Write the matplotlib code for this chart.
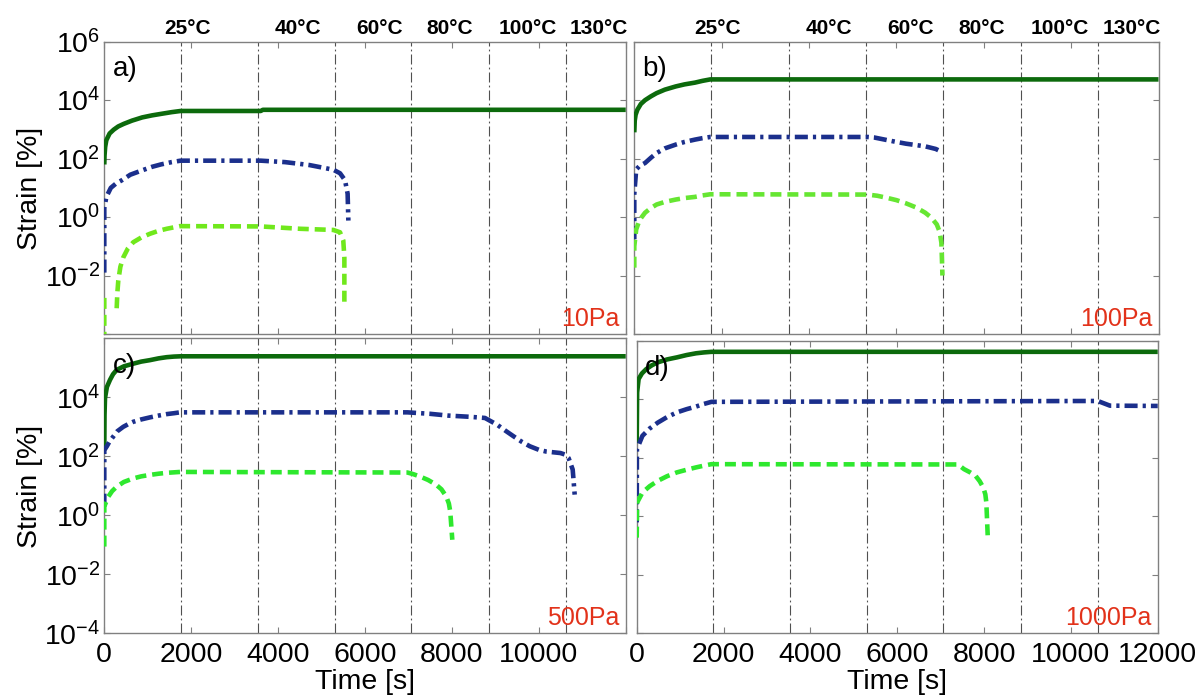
import numpy as np
import matplotlib
matplotlib.use("Agg")
import matplotlib.pyplot as plt
from matplotlib.ticker import FixedLocator, FuncFormatter, NullLocator
import matplotlib.transforms as mtransforms

plt.rcParams['font.family'] = ['Liberation Sans', 'DejaVu Sans']
plt.rcParams['mathtext.fontset'] = 'custom'
plt.rcParams['mathtext.rm'] = 'Liberation Sans'
plt.rcParams['mathtext.it'] = 'Liberation Sans:italic'
plt.rcParams['mathtext.bf'] = 'Liberation Sans:bold'

# Temperature steps of the creep programme
step_times = [1767, 3530, 5310, 7060, 8850, 10617]
temp_labels = ['25°C', '40°C', '60°C', '80°C', '100°C', '130°C']
temp_label_times = [1910, 4460, 6330, 7960, 9750, 11380]

stress_labels = ['10Pa', '100Pa', '500Pa', '1000Pa']
panel_letters = ['a)', 'b)', 'c)', 'd)']

x_ticks = [0, 2000, 4000, 6000, 8000, 10000, 12000]
y_ticks = [1e-4, 1e-2, 1e0, 1e2, 1e4, 1e6]

# ---- 10 Pa ----
t_a_dark = [0, 5, 20, 47, 122, 216, 320, 450, 638, 873, 1100, 1343, 1550, 1756, 3600, 3650, 12000]
s_a_dark = [63, 126, 251, 427, 724, 977, 1260, 1550, 1995, 2570, 3020, 3467, 3890, 4266, 4266,
            4677, 4677]
t_a_blue = [0, 0, 47, 150, 270, 404, 600, 873, 1100, 1300, 1550, 1756, 3600, 4160, 4720, 5270,
            5425, 5540, 5600, 5617]
s_a_blue = [0.0126, 2.0, 4.9, 10.0, 14.1, 18.2, 28.2, 39.8, 52.5, 63.1, 75.9, 85.1, 85.1, 75.9,
            60.3, 41.7, 31.6, 18.2, 6.31, 0.759]
t_a_light = [0, 0, np.nan, 285, 300, 322, 370, 437, 540, 667, 850, 1052, 1250, 1436, 1742, 3600,
             4500, 5270, 5425, 5500, 5525, 5525]
s_a_light = [5e-5, 2.34e-3, np.nan, 7.6e-4, 2.51e-3, 6.76e-3, 0.02, 0.0417, 0.0832, 0.138, 0.2,
             0.269, 0.339, 0.398, 0.49, 0.479, 0.398, 0.363, 0.302, 0.158, 0.0417, 1.07e-3]

# ---- 100 Pa ----
t_b_dark = [0, 10, 30, 70, 150, 246, 380, 510, 700, 949, 1150, 1388, 1560, 1739, 12000]
s_b_dark = [794, 1995, 3162, 4677, 7413, 10000, 13490, 17380, 22910, 29510, 34670, 39810, 45710,
            51290, 51290]
t_b_blue = [0, 0, 44, 120, 246, 380, 510, 700, 949, 1150, 1388, 1560, 1739, 5341, 5500, 5900,
            6220, 6659, 6900, 7054]
s_b_blue = [0.174, 6.31, 42.7, 56.2, 70.8, 107, 155, 224, 302, 372, 447, 501, 550, 550, 525, 398,
            324, 263, 214, 166]
t_b_light = [0, 0, 44, 120, 246, 380, 510, 700, 949, 1150, 1388, 1560, 1739, 5341, 5560, 5780,
             6000, 6220, 6450, 6660, 6800, 6924, 6990, 7030, 7054]
s_b_light = [0.0186, 0.1, 0.38, 0.794, 1.41, 2.04, 2.69, 3.31, 3.98, 4.47, 4.9, 5.5, 6.03, 5.89,
             5.37, 4.57, 3.8, 2.95, 2.14, 1.41, 0.955, 0.562, 0.316, 0.132, 0.01]

# ---- 500 Pa ----
t_c_dark = [0, 5, 16, 60, 131, 200, 285, 450, 668, 850, 1052, 1250, 1436, 1600, 1760, 12000]
s_c_dark = [158, 2512, 9333, 22390, 38900, 60260, 85110, 112200, 138000, 162200, 182000, 208900,
            229100, 239900, 245500, 245500]
t_c_blue = [0, 0, 55, 120, 207, 300, 437, 550, 667, 850, 1052, 1250, 1436, 1600, 1742, 6976,
            7500, 7915, 8400, 8760, 9042, 9230, 9417, 9600, 9793, 10000, 10169, 10498, 10600,
            10686, 10780, 10826]
s_c_blue = [1.95, 162, 214, 316, 468, 708, 1000, 1230, 1479, 1778, 2089, 2399, 2692, 2884, 3090,
            3090, 2754, 2399, 2188, 1995, 1175, 741, 479, 316, 219, 166, 145, 129, 115, 87.1,
            35.5, 5.01]
t_c_light = [0, 0, 92, 180, 285, 450, 668, 850, 1052, 1250, 1436, 1742, 6976, 7100, 7258, 7450,
             7634, 7760, 7869, 7930, 7962, 8009]
s_c_light = [0.087, 2.0, 4.27, 6.61, 9.33, 13.5, 17.8, 20.9, 23.4, 25.7, 27.5, 29.5, 28.2, 25.1,
             20.9, 15.8, 11.0, 7.59, 4.37, 2.51, 1.35, 0.148]

# ---- 1000 Pa ----
t_d_dark = [0, 10, 44, 120, 221, 350, 485, 700, 926, 1150, 1368, 1550, 1721, 12000]
s_d_dark = [316, 16980, 48980, 75860, 107200, 144500, 182000, 229100, 269200, 323600, 371500,
            398100, 416900, 416900]
t_d_blue = [0, 5, 132, 300, 485, 700, 926, 1150, 1368, 1550, 1721, 10620, 10760, 10900, 12000]
s_d_blue = [0.617, 195, 562, 1000, 1585, 2455, 3548, 4571, 5623, 6918, 8128, 8710, 7244, 6026,
            5888]
t_d_light = [0, 10, 132, 300, 485, 700, 926, 1150, 1368, 1550, 1721, 7400, 7540, 7680, 7806,
             7900, 7982, 8030, 8053, 8088]
s_d_light = [0.186, 2.95, 6.46, 10.7, 16.2, 23.4, 31.6, 38.9, 46.8, 53.7, 60.3, 58.9, 40.7, 31.6,
             24.0, 15.8, 9.55, 5.62, 2.95, 0.166]

panels = [
    (t_a_dark, s_a_dark, t_a_blue, s_a_blue, t_a_light, s_a_light),
    (t_b_dark, s_b_dark, t_b_blue, s_b_blue, t_b_light, s_b_light),
    (t_c_dark, s_c_dark, t_c_blue, s_c_blue, t_c_light, s_c_light),
    (t_d_dark, s_d_dark, t_d_blue, s_d_blue, t_d_light, s_d_light),
]

dark_green = '#0c6a0c'
navy = '#1b2f8c'
light_greens = ['#70e81c', '#66e632', '#2ee82e', '#2ee82e']
frame_gray = '#808080'
label_red = '#e2321a'

W, H = 1201, 695
fig = plt.figure(figsize=(W / 100, H / 100), dpi=100)

# axes boxes in pixels: left, top, right, bottom
boxes = [
    (104.3, 41.7, 625.7, 334.0),
    (634.3, 41.7, 1158.5, 334.0),
    (104.3, 338.3, 625.7, 633.3),
    (636.7, 340.7, 1157.7, 633.3),
]

LW = 3.3
for i, (l, t, r, b) in enumerate(boxes):
    ax = fig.add_axes([l / W, (H - b) / H, (r - l) / W, (b - t) / H])
    row, col = divmod(i, 2)
    td, sd, tb, sb, tl, sl = panels[i]

    for xs in step_times:
        ax.axvline(xs, color='#505050', lw=0.8, linestyle=(0, (9, 2.8, 1.6, 2.8)), zorder=1)

    ax.plot(td, sd, color=dark_green, lw=LW, solid_capstyle='butt', solid_joinstyle='round',
            zorder=3)
    ax.plot(tb, sb, color=navy, lw=LW, linestyle=(0, (2.85, 1.1, 0.7, 1.1)), zorder=4)
    ax.plot(tl, sl, color=light_greens[i], lw=LW, linestyle=(0, (2.4, 1.3)), zorder=5)

    ax.set_yscale('log')
    ax.set_xlim(0, 12000)
    ax.set_ylim(1e-4, 1e6)
    ax.xaxis.set_major_locator(FixedLocator(x_ticks))
    ax.yaxis.set_major_locator(FixedLocator(y_ticks))
    ax.yaxis.set_minor_locator(NullLocator())
    ax.xaxis.set_minor_locator(NullLocator())

    ax.tick_params(which='both', direction='in', top=True, right=True, length=4,
                   width=0.8, color=frame_gray, labelsize=20.5, labelcolor='black')
    ax.tick_params(axis='y', pad=3)
    ax.tick_params(axis='x', pad=6)
    for sp in ax.spines.values():
        sp.set_color(frame_gray)
        sp.set_linewidth(1.0)

    if col == 0:
        hidden_y = {-4} if row == 0 else {6}
        ax.yaxis.set_major_formatter(FuncFormatter(
            lambda v, pos, h=hidden_y: '' if int(round(np.log10(v))) in h
            else r'$\mathregular{10^{%d}}$' % int(round(np.log10(v)))))
    else:
        ax.set_yticklabels([])

    if row == 0:
        ax.set_xticklabels([])
    elif col == 0:
        ax.xaxis.set_major_formatter(FuncFormatter(
            lambda v, pos: '' if v >= 12000 else '%d' % v))
    else:
        ax.xaxis.set_major_formatter(FuncFormatter(lambda v, pos: '%d' % v))

    ax.text(0.016, 0.883, panel_letters[i], transform=ax.transAxes, fontsize=20,
            ha='left', va='baseline', color='black', zorder=6)
    ax.text(0.988, 0.028, stress_labels[i], transform=ax.transAxes, fontsize=18,
            ha='right', va='baseline', color=label_red, zorder=6)

    if row == 0:
        trans = mtransforms.blended_transform_factory(ax.transData, ax.transAxes)
        for xt, lab in zip(temp_label_times, temp_labels):
            ax.text(xt, 1.025, lab, transform=trans, ha='center', va='baseline',
                    fontsize=15, fontweight='bold', color='black')
    else:
        ax.set_xlabel('Time [s]', fontsize=20.5, labelpad=1)

# row y-labels
fig.text(30 / W, 1 - 188 / H, 'Strain [%]', rotation=90, ha='center', va='center', fontsize=20.5)
fig.text(30 / W, 1 - 486 / H, 'Strain [%]', rotation=90, ha='center', va='center', fontsize=20.5)

fig.savefig('out.png', dpi=100)
